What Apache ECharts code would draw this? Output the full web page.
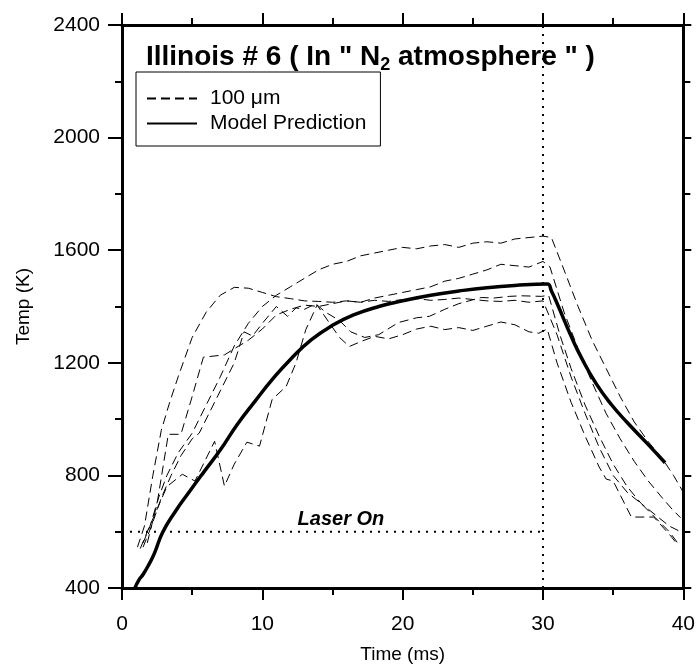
<!DOCTYPE html>
<html>
<head>
<meta charset="utf-8">
<script src="https://cdn.jsdelivr.net/npm/echarts@6/dist/echarts.min.js"></script>
<style>html,body{margin:0;padding:0;background:#fff;}#c{width:698px;height:669px;}</style>
</head>
<body>
<div id="c"></div>
<script>
// Measured curves (100 µm particles), [time ms, temp K]
var meas1 = [[1.1,545],[1.6,620],[2.2,800],[2.8,960],[3.4,1060],[4,1150],[5,1290],[6,1380],[7,1440],[8,1468],[9,1465],[10,1450],[11,1435],[12,1428],[13,1420],[14,1418],[15,1415],[16,1420],[17,1415],[18,1422],[19,1418],[20,1425],[21,1428],[22,1422],[23,1425],[24,1430],[25,1425],[26,1420],[27,1418],[28,1422],[29,1415],[30,1420],[31,1300],[32,1150],[33,1020],[34,900],[35,800],[36,740],[37,700],[38,650],[39,600],[39.6,560]];
var meas2 = [[1.5,560],[2,620],[2.6,720],[3.2,800],[4,880],[5,950],[6,1050],[7,1150],[8,1260],[9,1340],[10,1400],[11,1440],[12,1470],[13,1500],[14,1530],[15,1550],[16,1560],[17,1580],[18,1590],[19,1600],[20,1610],[21,1605],[22,1615],[23,1620],[24,1610],[25,1625],[26,1630],[27,1625],[28,1640],[29,1645],[30,1650],[30.6,1645],[31.5,1530],[32.5,1400],[33.5,1280],[34.5,1180],[35.5,1080],[36.5,990],[37.5,920],[38.5,860],[39.3,800],[40,740]];
var meas3 = [[1.8,560],[2.5,700],[3.3,946],[4.2,946],[5,1080],[5.8,1220],[7.3,1228],[8,1250],[9,1280],[10,1320],[11,1370],[12,1390],[13,1405],[14,1400],[15,1410],[16,1420],[17,1415],[18,1430],[19,1440],[20,1450],[21,1460],[22,1470],[23,1490],[24,1500],[25,1515],[26,1530],[27,1550],[28,1545],[29,1540],[30,1560],[30.5,1540],[31.5,1380],[32.5,1250],[33.5,1130],[34.5,1020],[35.5,930],[36.5,850],[37.5,780],[38.5,720],[39.2,680],[39.8,650]];
var meas4 = [[1.5,545],[2.1,620],[2.8,720],[3.5,800],[4.2,870],[5,930],[5.5,950],[6,1000],[7,1100],[8,1200],[8.7,1310],[9.3,1295],[10,1340],[11,1400],[11.8,1365],[12.4,1395],[13,1390],[13.8,1410],[14.5,1380],[15.5,1350],[16.3,1310],[17.3,1290],[18.3,1300],[19.7,1343],[21,1360],[21.9,1365],[23,1390],[24,1410],[25.6,1432],[26.5,1430],[27.6,1436],[28.5,1438],[29.9,1436],[30.4,1440],[31.2,1300],[32,1180],[33,1050],[34,940],[35,840],[36,760],[37,700],[38,660],[39,620],[39.8,600]];
var meas5 = [[1.3,540],[1.8,600],[2.5,680],[3.2,760],[4.3,804],[5.2,780],[6.6,921],[7.3,762],[8,840],[8.9,918],[9.8,904],[10.7,1070],[11.7,1116],[12.4,1200],[13.1,1318],[13.9,1405],[14.8,1340],[15.5,1290],[16.2,1258],[17,1275],[18,1294],[19,1285],[20,1300],[21,1320],[22,1330],[23,1318],[24,1325],[25,1315],[26,1330],[27,1345],[28,1335],[29,1310],[29.7,1305],[30.3,1320],[31,1200],[32,1060],[33,940],[34,830],[34.5,787],[35,780],[36.3,652],[37.9,652],[39.1,585],[39.5,560]];
// Model prediction
var model = [[0.92,400],[1.2,428],[1.5,448],[1.9,482],[2.3,522],[2.9,598],[3.8,672],[4.8,742],[5.8,810],[7,890],[8.2,980],[9.5,1065],[10.7,1140],[12,1212],[13.5,1282],[15,1333],[16.5,1370],[18.3,1400],[20,1420],[22,1440],[24,1455],[26,1467],[28,1475],[30.3,1480],[30.6,1455],[31.1,1400],[32,1295],[32.8,1212],[33.8,1125],[34.9,1050],[36,988],[37.3,920],[38.7,845]];
// Annotations
var laserOnLine = [[0,600],[30,600]];
var laserOffLine = [[30,400],[30,2400]];
var laserLabel = [[15.6,645]];

var FONT = '"Liberation Sans", Arial, Helvetica, sans-serif';
var chart = echarts.init(document.getElementById('c'));
function dashed(data){
  return {type:'line', name:'100 μm', data:data, symbol:'none', showSymbol:false, silent:true,
    lineStyle:{color:'#000', width:1, type:[9,5]}, itemStyle:{color:'#000'}, z:3};
}
var plain = function(v){ return String(v); };
chart.setOption({
  animation:false,
  backgroundColor:'#fff',
  grid:{left:122, right:13, top:25, bottom:80},
  title:{
    left:141, top:36,
    text:'{a|Illinois # 6 ( In " N}{s|2}{a| atmosphere " )}',
    textStyle:{rich:{
      a:{fontFamily:FONT, fontSize:28, fontWeight:'bold', color:'#000', lineHeight:32},
      s:{fontFamily:FONT, fontSize:18, fontWeight:'bold', color:'#000', lineHeight:32, padding:[17,0,0,0]}
    }}
  },
  legend:{
    left:136, top:72, orient:'vertical',
    data:['100 μm','Model Prediction'],
    itemWidth:50, itemHeight:14, itemGap:4,
    padding:[16,14,12,10],
    borderColor:'#000', borderWidth:1,
    itemStyle:{opacity:0},
    textStyle:{fontFamily:FONT, fontSize:21, color:'#000', padding:[0,0,0,8], lineHeight:21},
    selectedMode:false
  },
  xAxis:[
    {type:'value', min:0, max:40, interval:10, position:'bottom',
      axisLine:{show:true, onZero:false, lineStyle:{color:'#000', width:3}},
      axisTick:{show:true, length:12, lineStyle:{color:'#000', width:2}},
      minorTick:{show:true, splitNumber:2, length:7, lineStyle:{color:'#000', width:2}},
      splitLine:{show:false},
      axisLabel:{fontFamily:FONT, fontSize:21, color:'#000', margin:26, formatter:plain},
      name:'Time (ms)', nameLocation:'middle', nameGap:57,
      nameTextStyle:{fontFamily:FONT, fontSize:19, color:'#000'}},
    {type:'value', min:0, max:40, interval:10, position:'top',
      axisLine:{show:true, onZero:false, lineStyle:{color:'#000', width:3}},
      axisTick:{show:true, length:12, lineStyle:{color:'#000', width:2}},
      minorTick:{show:true, splitNumber:2, length:7, lineStyle:{color:'#000', width:2}},
      splitLine:{show:false}, axisLabel:{show:false}}
  ],
  yAxis:[
    {type:'value', min:400, max:2400, interval:400, position:'left',
      axisLine:{show:true, onZero:false, lineStyle:{color:'#000', width:3}},
      axisTick:{show:true, length:14, lineStyle:{color:'#000', width:2}},
      minorTick:{show:true, splitNumber:2, length:7, lineStyle:{color:'#000', width:2}},
      splitLine:{show:false},
      axisLabel:{fontFamily:FONT, fontSize:21, color:'#000', margin:22, formatter:plain},
      name:'Temp (K)', nameLocation:'middle', nameGap:89,
      nameTextStyle:{fontFamily:FONT, fontSize:19, color:'#000'}},
    {type:'value', min:400, max:2400, interval:400, position:'right',
      axisLine:{show:true, onZero:false, lineStyle:{color:'#000', width:3}},
      axisTick:{show:true, length:8, lineStyle:{color:'#000', width:2}},
      minorTick:{show:true, splitNumber:2, length:7, lineStyle:{color:'#000', width:2}},
      splitLine:{show:false}, axisLabel:{show:false}}
  ],
  series:[
    dashed(meas1), dashed(meas2), dashed(meas3), dashed(meas4), dashed(meas5),
    {type:'line', name:'Model Prediction', data:model, symbol:'none', showSymbol:false, silent:true,
      smooth:0.5,
      lineStyle:{color:'#000', width:3.5}, itemStyle:{color:'#000'}, z:5},
    {type:'line', name:'laserOn', data:laserOnLine, symbol:'none', silent:true,
      lineStyle:{color:'#000', width:2, type:[2,6]}, z:2},
    {type:'line', name:'laserOff', data:laserOffLine, symbol:'none', silent:true,
      lineStyle:{color:'#000', width:2, type:[2,6]}, z:2},
    {type:'scatter', name:'laserLabel', data:laserLabel, symbolSize:0, silent:true,
      itemStyle:{opacity:1},
      label:{show:true, position:'inside', formatter:'Laser On', fontFamily:FONT, fontSize:20,
        fontWeight:'bold', fontStyle:'italic', color:'#000', opacity:1}}
  ]
});
</script>
</body>
</html>
